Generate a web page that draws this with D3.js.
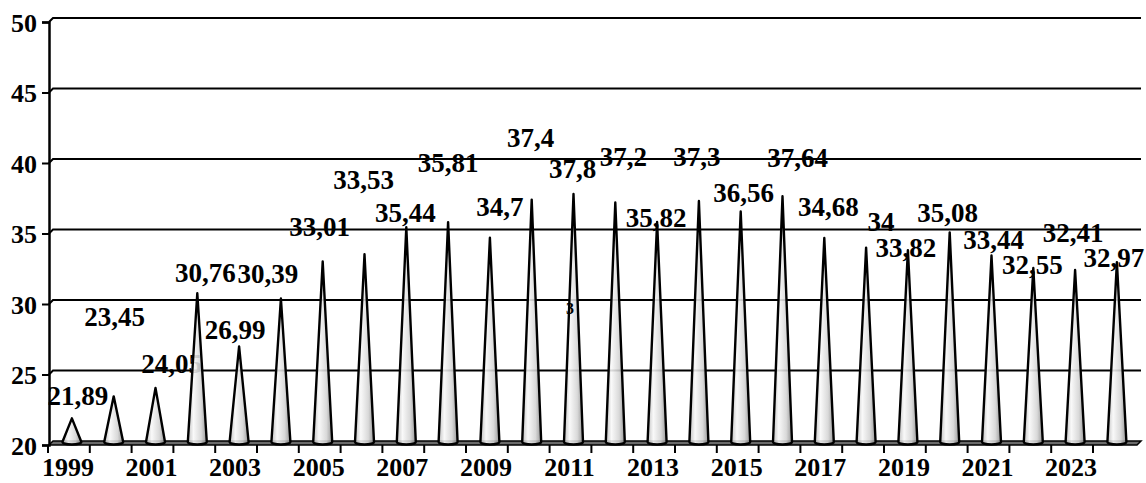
<!DOCTYPE html>
<html>
<head>
<meta charset="utf-8">
<script src="https://cdn.jsdelivr.net/npm/d3@7/dist/d3.min.js"></script>
<style>
  body { margin: 0; background: #fff; }
  svg text { font-family: "Liberation Serif", "Times New Roman", serif; font-weight: bold; fill: #000; }
</style>
</head>
<body>
<div id="chart"></div>
<script>
// data
const years = d3.range(1999, 2025).map(String);
const values = [21.89, 23.45, 24.05, 30.76, 26.99, 30.39, 33.01, 33.53, 35.44, 35.81,
  34.7, 37.4, 37.8, 37.2, 35.82, 37.3, 36.56, 37.64, 34.68, 34, 33.82, 35.08, 33.44,
  32.55, 32.41, 32.97];
const yTicks = [20, 25, 30, 35, 40, 45, 50];

// label placement, [dx, dy] from the cone tip (as laid out in the original)
const labelShift = [[6,-13],[1,-70],[16,-15],[8,-11],[-4,-7],[-13,-16],[-3,-26],[-1,-65],
  [-1,-5],[0,-50],[10,-22],[-1,-53],[-1,-16],[8,-36],[-1,5],[-2,-35],[3,-10],[15,-29],
  [4,-22],[15,-17],[-2,7],[-2,-10],[2,-6],[-1,6],[-2,-28],[-3,5]];

const W = 1146, H = 483;
const depth = 4; // 3d wall offset

const svg = d3.select("#chart").append("svg").attr("width", W).attr("height", H);

const x = d3.scaleBand().domain(years).range([48, 48 + 26 * 41.8]);
const y = d3.scaleLinear().domain([20, 50]).range([445, 22]);
const cx = d => x(d) + x.bandwidth() / 2 + 3;

const fmt = v => String(v).replace(".", ",");

// gradient for cones
const grad = svg.append("defs").append("linearGradient").attr("id", "cone")
  .attr("x1", "0%").attr("x2", "100%").attr("y1", "0%").attr("y2", "0%");
grad.append("stop").attr("offset", "0%").attr("stop-color", "#b8b8b8");
grad.append("stop").attr("offset", "30%").attr("stop-color", "#f8f8f8");
grad.append("stop").attr("offset", "70%").attr("stop-color", "#d4d4d4");
grad.append("stop").attr("offset", "100%").attr("stop-color", "#8a8a8a");

// back wall gridlines
svg.append("g").selectAll("path").data(yTicks.filter(t => t > 20)).join("path")
  .attr("d", t => `M49,${y(t)}L${49 + depth},${y(t) - depth}L1141,${y(t) - depth}`)
  .attr("fill", "none").attr("stroke", "#000").attr("stroke-width", 2);

// floor
svg.append("path")
  .attr("d", `M49,${y(20)}L${49 + depth},${y(20) - depth}L1141,${y(20) - depth}L1137,${y(20)}Z`)
  .attr("fill", "#6a6a6a").attr("stroke", "#000").attr("stroke-width", 1.5);

// y axis
const yAxis = svg.append("g").attr("transform", "translate(49,0)")
  .call(d3.axisLeft(y).tickValues(yTicks).tickSize(7).tickPadding(5));
yAxis.select(".domain").attr("stroke-width", 2.5);
yAxis.selectAll(".tick line").attr("stroke-width", 2);
yAxis.selectAll("text").attr("font-size", 26).attr("dy", "0.36em")
  .style("font-family", "'Liberation Serif', serif").style("font-weight", "bold");

// x ticks (category boundaries)
svg.append("g").selectAll("line").data(years).join("line")
  .attr("x1", d => x(d)).attr("x2", d => x(d))
  .attr("y1", y(20)).attr("y2", y(20) + 8)
  .attr("stroke", "#000").attr("stroke-width", 2);

svg.append("g").selectAll("text").data(years.filter((d, i) => i % 2 === 0)).join("text")
  .attr("x", d => cx(d) - 4).attr("y", 476)
  .attr("text-anchor", "middle").attr("font-size", 26)
  .text(d => d);

// value labels (drawn before cones, cones sit over them)
svg.append("g").selectAll("text").data(values).join("text")
  .attr("x", (v, i) => cx(years[i]) + labelShift[i][0])
  .attr("y", (v, i) => y(v) + labelShift[i][1])
  .attr("text-anchor", "middle").attr("font-size", 27)
  .text(v => fmt(v));

// cones
const r = 9.5, baseY = y(20) - 3;
svg.append("g").selectAll("path").data(values).join("path")
  .attr("d", (v, i) => {
    const c = cx(years[i]);
    return `M${c - r},${baseY}L${c},${y(v)}L${c + r},${baseY}A${r},2.5 0 0 1 ${c - r},${baseY}Z`;
  })
  .attr("fill", "url(#cone)").attr("fill-opacity", 0.88)
  .attr("stroke", "#000").attr("stroke-width", 2.4).attr("stroke-linejoin", "round");

// stray label fragment, sits on top of the 2011 cone
svg.append("text").attr("x", 570).attr("y", 314).attr("text-anchor", "middle")
  .attr("font-size", 16).text("3");
</script>
</body>
</html>
